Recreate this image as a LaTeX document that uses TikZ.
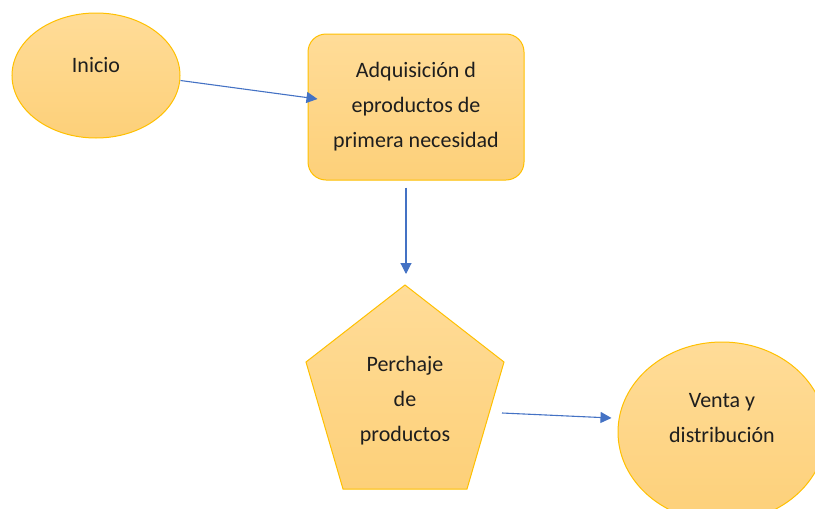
\documentclass[tikz,border=0pt]{standalone}
\usepackage{fontspec}
\setmainfont{Carlito}
\usetikzlibrary{arrows.meta,shapes.geometric}
\definecolor{fillA}{HTML}{FFDC98}
\definecolor{fillB}{HTML}{FDD079}
\definecolor{edgec}{HTML}{FFC000}
\definecolor{arrowc}{HTML}{4472C4}
\definecolor{ink}{HTML}{1E1E1E}
\tikzset{
 shp/.style={draw=edgec, line width=1pt, top color=fillA, bottom color=fillB},
 ell/.style={shp, ellipse, inner sep=0pt},
 boxr/.style={shp, rectangle, rounded corners=18pt, inner sep=0pt},
 txt/.style={text=ink, font=\fontsize{22}{35}\selectfont, align=center},
 arr/.style={draw=arrowc, line width=1.1pt, -{Triangle[length=11pt,width=11pt]}},
}
\begin{document}
\begin{tikzpicture}[x=1pt,y=-1pt]
\useasboundingbox (0,0) rectangle (815,509);
\clip (0,0) rectangle (815,509);
\node[ell, minimum width=168pt, minimum height=125pt,
      label={[txt,yshift=10pt]center:Inicio}] (ini) at (96,75.5) {};
\node[boxr, txt, minimum width=216pt, minimum height=146pt] (adq) at (416,107)
  {Adquisición d\\eproductos de\\primera necesidad};
\path[shp] (405,285) -- (504,362) -- (467,489) -- (343,489) -- (306,362) -- cycle;
\coordinate (ptop) at (405,285);
\coordinate (pright) at (502,413);
\node[txt] (per) at (405,401) {Perchaje\\de\\productos};
\node[ell, minimum width=208pt, minimum height=180pt,
      label={[txt,yshift=14pt]center:Venta y\\distribución}] (ven) at (722,432) {};
\draw[arr] ([yshift=-5pt]ini.east) -- ([xshift=10pt,yshift=8pt]adq.west);
\draw[arr] ([xshift=-10pt,yshift=-7pt]adq.south) -- ([xshift=1pt,yshift=11pt]ptop);
\draw[arr] (pright) -- ([xshift=-6pt,yshift=14pt]ven.west);
\end{tikzpicture}
\end{document}
